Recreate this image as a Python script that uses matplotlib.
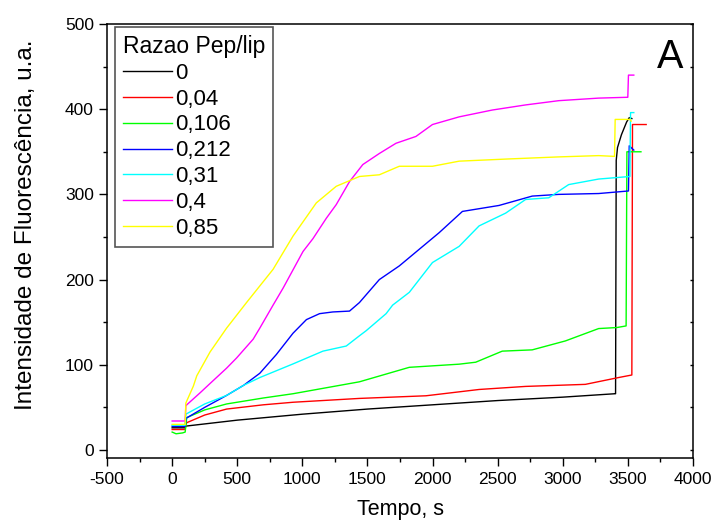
import numpy as np
import matplotlib
matplotlib.use('Agg')
import matplotlib.pyplot as plt
from matplotlib.ticker import MultipleLocator

plt.rcParams['font.family'] = ['Liberation Sans', 'DejaVu Sans']
plt.rcParams['axes.unicode_minus'] = False

# Fluorescence vs time, one trace per peptide/lipid ratio
x_0 = [0, 100, 105, 500, 1000, 1500, 2000, 2500, 3000, 3400, 3405, 3410, 3420, 3450, 3490, 3510, 3530]
y_0 = [26, 26, 28, 35, 42, 48, 53, 58, 62, 66, 66, 340, 355, 370, 385, 390, 389]

x_004 = [0, 100, 105, 112, 250, 418, 700, 928, 1438, 1949, 2357, 2714, 3173, 3428, 3530, 3535, 3640]
y_004 = [24, 24, 30, 32, 41, 48, 53, 56, 60.5, 63.6, 71, 74.6, 77, 85, 88, 382, 382]

x_0106 = [0, 30, 80, 100, 112, 250, 418, 700, 928, 1438, 1821, 2204, 2331, 2535, 2765, 3020,
          3275, 3415, 3486, 3492, 3600]
y_0106 = [21, 19, 20, 21, 38, 47, 54, 61, 66, 80, 97, 100.7, 103, 116, 117.5, 128,
          142.5, 143.7, 145.6, 350, 350]

x_0212 = [0, 100, 105, 250, 418, 550, 673, 800, 928, 1031, 1132, 1234, 1362, 1438, 1591, 1744,
          2050, 2229, 2510, 2765, 2969, 3275, 3504, 3510, 3545]
y_0212 = [27.7, 27.7, 37, 50, 64, 76, 90, 112, 137, 153, 160, 162, 163, 173, 200, 216,
          255, 280, 287, 298, 300, 301, 304, 357, 352]

x_031 = [0, 100, 105, 250, 418, 550, 673, 928, 1158, 1337, 1438, 1490, 1643, 1693, 1821, 1999,
         2204, 2357, 2561, 2714, 2892, 3045, 3275, 3515, 3520, 3545]
y_031 = [29, 29, 42, 54, 64, 76, 85, 101, 116, 122, 134, 140, 160, 170, 185, 220,
         239, 263, 278, 294, 296, 311.5, 318, 321, 396, 396]

x_04 = [0, 100, 105, 214, 291, 418, 495, 622, 673, 775, 852, 1005, 1081, 1184, 1260, 1362,
        1464, 1591, 1719, 1872, 1999, 2204, 2458, 2714, 2969, 3275, 3499, 3504, 3545]
y_04 = [34, 34, 52, 67, 78, 96, 108, 130, 143, 170, 190, 233, 248, 272, 288, 315,
        335, 348, 360, 368, 382, 391, 399, 405, 410, 413, 414, 440, 440]

x_085 = [0, 100, 105, 163, 189, 291, 418, 571, 775, 928, 1107, 1260, 1438, 1591, 1744, 1999,
         2204, 2586, 2969, 3275, 3397, 3402, 3517, 3525]
y_085 = [30, 30, 55, 75, 87, 115, 143, 173, 212, 251, 290, 309.5, 321, 323, 333, 333,
         339, 341.6, 344, 345.5, 344.6, 388, 388, 386]

series = [
    ('0', x_0, y_0, 'black'),
    ('0,04', x_004, y_004, 'red'),
    ('0,106', x_0106, y_0106, '#00ff00'),
    ('0,212', x_0212, y_0212, 'blue'),
    ('0,31', x_031, y_031, 'cyan'),
    ('0,4', x_04, y_04, 'magenta'),
    ('0,85', x_085, y_085, 'yellow'),
]

fig = plt.figure(figsize=(7.15, 5.25), dpi=100)
ax = fig.add_axes([0.1497, 0.1267, 0.8196, 0.8276])

for label, xs, ys, color in series:
    ax.plot(xs, ys, color=color, linewidth=1.0, label=label)

ax.set_xlim(-500, 4000)
ax.set_ylim(-10, 500)
ax.xaxis.set_major_locator(MultipleLocator(500))
ax.xaxis.set_minor_locator(MultipleLocator(250))
ax.yaxis.set_major_locator(MultipleLocator(100))
ax.yaxis.set_minor_locator(MultipleLocator(50))

ax.tick_params(which='both', direction='out', width=1.0, labelsize=12.5, colors='black')
ax.tick_params(which='major', length=6, pad=3.5)
ax.tick_params(which='minor', length=3)
# Origin-style small inward ticks on the right spine
ax.yaxis.set_tick_params(which='both', right=True)
for t in ax.yaxis.get_major_ticks() + ax.yaxis.get_minor_ticks():
    t.tick2line.set_markersize(2.5)
    t.tick2line.set_marker(0)  # points left, i.e. into the axes
for spine in ax.spines.values():
    spine.set_linewidth(1.1)

ax.set_xlabel('Tempo, s', fontsize=15.5, labelpad=9)
ax.set_ylabel('Intensidade de Fluorescência, u.a.', fontsize=17.5)
ax.yaxis.set_label_coords(-0.12, 0.537)

leg = ax.legend(title='Razao Pep/lip', loc='upper left', bbox_to_anchor=(0.0137, 0.993),
                borderaxespad=0, fontsize=16, title_fontsize=16.5, handlelength=2.2,
                handletextpad=0.15, labelspacing=0.22, borderpad=0.35,
                fancybox=False, framealpha=1, edgecolor='#555555')
leg.get_frame().set_linewidth(1.2)
leg._legend_box.align = 'left'

ax.text(0.983, 0.8987, 'A', transform=ax.transAxes, fontsize=28.5, ha='right', va='baseline')

fig.savefig('out.png', dpi=100)
